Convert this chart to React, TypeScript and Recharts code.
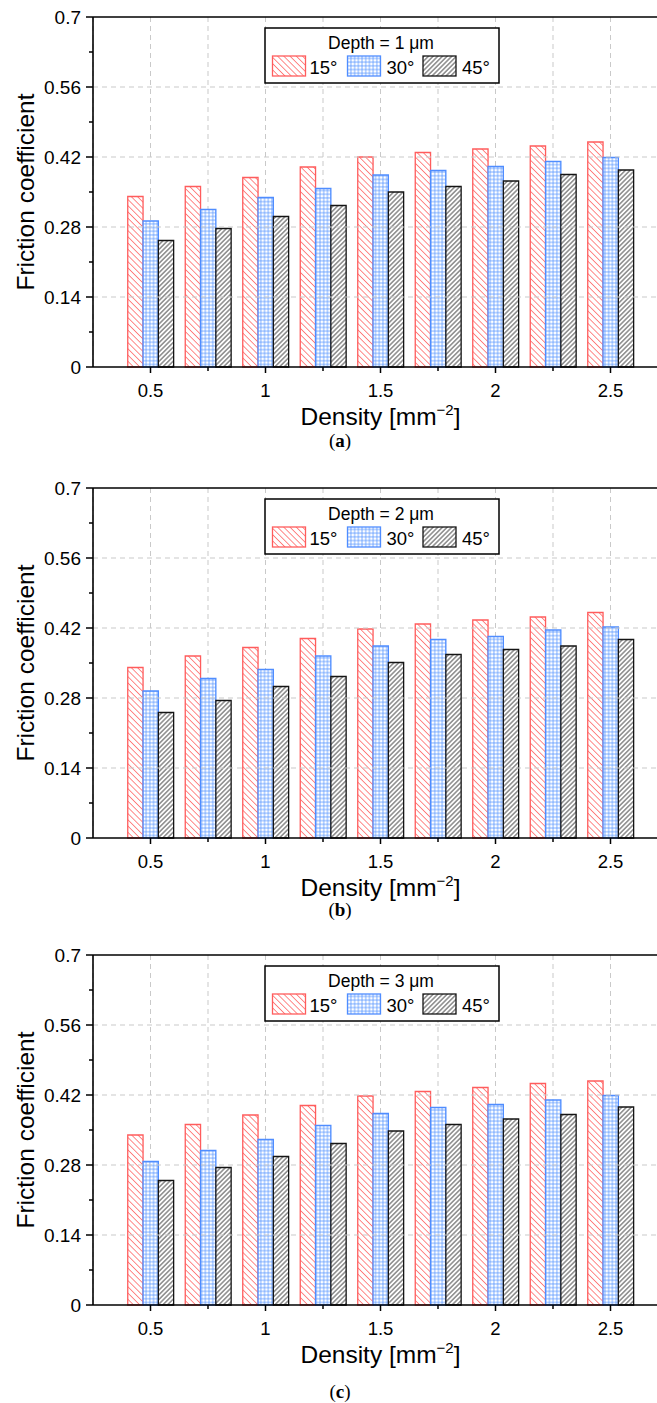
import { Bar, BarChart, CartesianGrid, Label, Legend, ReferenceLine, XAxis, YAxis } from "recharts";

const FONT = '"Liberation Sans", Arial, Helvetica, sans-serif';

const DENSITY = ["0.5", "0.75", "1", "1.25", "1.5", "1.75", "2", "2.25", "2.5"];
const DENSITY_LABELS = ["0.5", "1", "1.5", "2", "2.5"];
const Y_TICKS = [0, 0.07, 0.14, 0.21, 0.28, 0.35, 0.42, 0.49, 0.56, 0.63, 0.7];
const Y_LABELS = [0, 0.14, 0.28, 0.42, 0.56, 0.7];
const Y_GRID = [0.14, 0.28, 0.42, 0.56];
const ANGLES = ["15°", "30°", "45°"];

// friction coefficient, one array per depth / cone angle
const DEPTH1_15 = [0.341, 0.361, 0.379, 0.4, 0.42, 0.429, 0.436, 0.442, 0.45];
const DEPTH1_30 = [0.292, 0.315, 0.339, 0.357, 0.384, 0.393, 0.401, 0.411, 0.419];
const DEPTH1_45 = [0.253, 0.277, 0.301, 0.323, 0.35, 0.361, 0.372, 0.385, 0.394];

const DEPTH2_15 = [0.341, 0.364, 0.381, 0.399, 0.418, 0.428, 0.436, 0.442, 0.451];
const DEPTH2_30 = [0.294, 0.319, 0.337, 0.364, 0.384, 0.397, 0.403, 0.416, 0.422];
const DEPTH2_45 = [0.251, 0.275, 0.303, 0.323, 0.351, 0.367, 0.377, 0.384, 0.397];

const DEPTH3_15 = [0.34, 0.361, 0.38, 0.399, 0.418, 0.427, 0.435, 0.443, 0.448];
const DEPTH3_30 = [0.287, 0.309, 0.331, 0.359, 0.383, 0.395, 0.401, 0.41, 0.419];
const DEPTH3_45 = [0.249, 0.275, 0.297, 0.323, 0.348, 0.361, 0.372, 0.381, 0.396];

const PANELS = [
  { depth: 1, caption: "a", top: 0, captionGap: 63, series: [DEPTH1_15, DEPTH1_30, DEPTH1_45] },
  { depth: 2, caption: "b", top: 471, captionGap: 61, series: [DEPTH2_15, DEPTH2_30, DEPTH2_45] },
  { depth: 3, caption: "c", top: 938, captionGap: 76, series: [DEPTH3_15, DEPTH3_30, DEPTH3_45] },
];

const SERIES_STYLE = [
  { pattern: "red", stroke: "#ff5c5c" },
  { pattern: "blue", stroke: "#4f8dff" },
  { pattern: "black", stroke: "#141414" },
];

const PLOT_TOP = 17;
const PLOT_H = 350;
const AXIS_H = 60;
const BOTTOM_PAD = 20;

function Patterns({ id }: { id: string }) {
  return (
    <defs>
      <pattern id={`${id}-red`} patternUnits="userSpaceOnUse" width={4.4} height={4.4} patternTransform="rotate(-45)">
        <rect width={4.4} height={4.4} fill="#fff" />
        <line x1={2.2} y1={0} x2={2.2} y2={4.4} stroke="#ff7a7a" strokeWidth={0.9} />
      </pattern>
      <pattern id={`${id}-blue`} patternUnits="userSpaceOnUse" width={3.7} height={3.7}>
        <rect width={3.7} height={3.7} fill="#fff" />
        <path d="M1.85 0V3.7M0 1.85H3.7" stroke="#5b98ff" strokeWidth={0.8} />
      </pattern>
      <pattern id={`${id}-black`} patternUnits="userSpaceOnUse" width={3.3} height={3.3} patternTransform="rotate(45)">
        <rect width={3.3} height={3.3} fill="#fff" />
        <line x1={1.65} y1={0} x2={1.65} y2={3.3} stroke="#3a3a3a" strokeWidth={0.9} />
      </pattern>
    </defs>
  );
}

function XTick({ x, y, payload }: any) {
  const major = DENSITY_LABELS.includes(payload.value);
  return (
    <g>
      <line x1={x} x2={x} y1={y} y2={y + (major ? 6 : 4)} stroke="#000" strokeWidth={1.5} />
      {major ? (
        <text x={x} y={y + 30} textAnchor="middle" fontSize={18.5} fontFamily={FONT} fill="#000">
          {payload.value}
        </text>
      ) : null}
    </g>
  );
}

function YTick({ x, y, payload }: any) {
  const major = Y_LABELS.includes(payload.value);
  return (
    <g>
      <line x1={x - (major ? 7 : 4)} x2={x} y1={y} y2={y} stroke="#000" strokeWidth={1.5} />
      {major ? (
        <text x={x - 12} y={y} dy="0.36em" textAnchor="end" fontSize={19} fontFamily={FONT} fill="#000">
          {String(payload.value)}
        </text>
      ) : null}
    </g>
  );
}

function DepthLegend({ depth, id }: { depth: number; id: string }) {
  const swatchX = [8.5, 83.5, 159];
  const textX = [45.5, 122.5, 198];
  return (
    <svg width={236} height={57} style={{ display: "block" }}>
      <Patterns id={id} />
      <rect x={1} y={1} width={234} height={55} fill="#fff" stroke="#000" strokeWidth={1.5} />
      <text x={117} y={22} textAnchor="middle" fontSize={17.5} fontFamily={FONT} fill="#000">
        {`Depth = ${depth} μm`}
      </text>
      {ANGLES.map((a, i) => (
        <g key={a}>
          <rect
            x={swatchX[i]}
            y={29}
            width={33}
            height={20}
            fill={`url(#${id}-${SERIES_STYLE[i].pattern})`}
            stroke={SERIES_STYLE[i].stroke}
            strokeWidth={1.3}
          />
          <text x={textX[i]} y={47} fontSize={18.5} fontFamily={FONT} fill="#000">
            {a}
          </text>
        </g>
      ))}
    </svg>
  );
}

function Panel({ panel }: { panel: (typeof PANELS)[number] }) {
  const id = `p${panel.caption}`;
  const rows = DENSITY.map((d, i) => ({
    density: d,
    a15: panel.series[0][i],
    a30: panel.series[1][i],
    a45: panel.series[2][i],
  }));
  const keys = ["a15", "a30", "a45"];

  return (
    <div style={{ position: "absolute", left: 0, top: panel.top }}>
      <BarChart
        width={680}
        height={PLOT_TOP + PLOT_H + AXIS_H + BOTTOM_PAD}
        data={rows}
        margin={{ top: PLOT_TOP, right: 12, bottom: BOTTOM_PAD, left: 0 }}
        barGap={0}
        barSize={15.3}
      >
        <Patterns id={id} />
        <CartesianGrid horizontal={false} stroke="#c9c9c9" strokeDasharray="5 4" />
        {Y_GRID.map((v) => (
          <ReferenceLine key={v} y={v} stroke="#c9c9c9" strokeDasharray="5 4" />
        ))}
        <XAxis
          dataKey="density"
          interval={0}
          padding={{ left: 28.75, right: 28.75 }}
          height={AXIS_H}
          tickSize={0}
          tickMargin={0}
          tickLine={false}
          axisLine={{ stroke: "#000", strokeWidth: 1.6 }}
          tick={(p: any) => <XTick {...p} />}
        >
          <Label
            content={({ viewBox }: any) => (
              <text
                x={viewBox.x + viewBox.width / 2}
                y={viewBox.y + 58}
                textAnchor="middle"
                fontSize={24.5}
                fontFamily={FONT}
                fill="#000"
              >
                Density [mm
                <tspan dy={-10} fontSize={15}>
                  −2
                </tspan>
                <tspan dy={10}>]</tspan>
              </text>
            )}
          />
        </XAxis>
        <YAxis
          type="number"
          domain={[0, 0.7]}
          ticks={Y_TICKS}
          interval={0}
          width={93}
          tickSize={0}
          tickMargin={0}
          tickLine={false}
          axisLine={{ stroke: "#000", strokeWidth: 1.6 }}
          tick={(p: any) => <YTick {...p} />}
        >
          <Label
            content={({ viewBox }: any) => {
              const cx = 34;
              const cy = viewBox.y + viewBox.height / 2;
              return (
                <text
                  x={cx}
                  y={cy}
                  transform={`rotate(-90, ${cx}, ${cy})`}
                  textAnchor="middle"
                  fontSize={24.5}
                  fontFamily={FONT}
                  fill="#000"
                >
                  Friction coefficient
                </text>
              );
            }}
          />
        </YAxis>
        <ReferenceLine y={0.7} stroke="#000" strokeWidth={1.6} />
        {keys.map((k, i) => (
          <Bar
            key={k}
            dataKey={k}
            name={ANGLES[i]}
            fill={`url(#${id}-${SERIES_STYLE[i].pattern})`}
            stroke={SERIES_STYLE[i].stroke}
            strokeWidth={1.3}
            isAnimationActive={false}
          />
        ))}
        <Legend
          layout="horizontal"
          verticalAlign="middle"
          align="center"
          wrapperStyle={{ left: 264, top: 27, width: 236, height: 57 }}
          content={() => <DepthLegend depth={panel.depth} id={`${id}-lg`} />}
        />
      </BarChart>
      <div
        style={{
          position: "absolute",
          left: 300,
          width: 80,
          top: PLOT_TOP + PLOT_H + panel.captionGap,
          textAlign: "center",
          fontFamily: '"Liberation Serif", "DejaVu Serif", serif',
          fontSize: 19,
          lineHeight: "22px",
          color: "#000",
        }}
      >
        (<b>{panel.caption}</b>)
      </div>
    </div>
  );
}

export default function App() {
  return (
    <div
      style={{
        position: "absolute",
        left: 0,
        top: 0,
        width: 657,
        height: 1403,
        overflow: "hidden",
        background: "#fff",
      }}
    >
      {PANELS.map((p) => (
        <Panel key={p.caption} panel={p} />
      ))}
    </div>
  );
}
